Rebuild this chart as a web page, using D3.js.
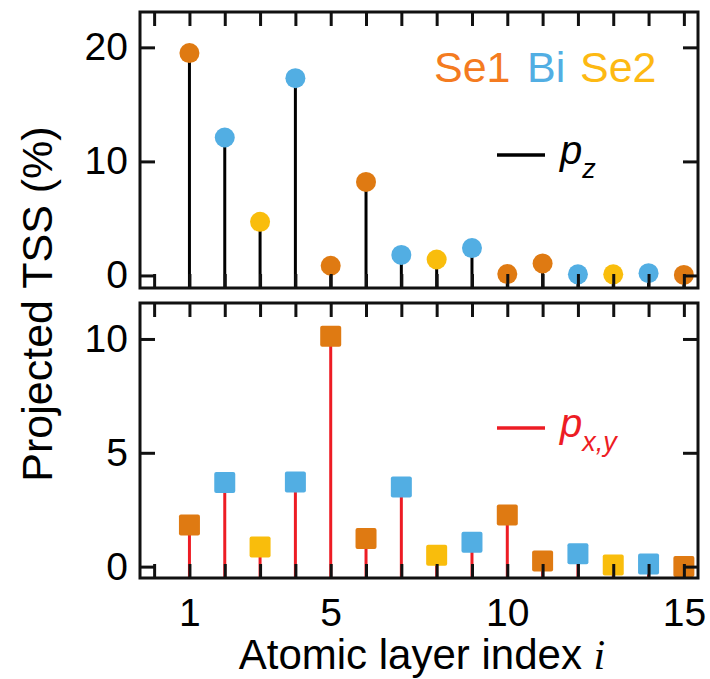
<!DOCTYPE html>
<html>
<head>
<meta charset="utf-8">
<script src="https://cdn.jsdelivr.net/npm/d3@7"></script>
<style>
  body { margin: 0; background: #fff; }
  svg text { font-family: "Liberation Sans", Arial, sans-serif; }
</style>
</head>
<body>
<div id="chart"></div>
<script>
// data
var layers = [1, 2, 3, 4, 5, 6, 7, 8, 9, 10, 11, 12, 13, 14, 15];
var atomTypes = ["Se1", "Bi", "Se2", "Bi", "Se1", "Se1", "Bi", "Se2", "Bi", "Se1", "Se1", "Bi", "Se2", "Bi", "Se1"];
var pzValues = [19.5, 12.1, 4.7, 17.3, 0.85, 8.2, 1.8, 1.4, 2.4, 0.12, 1.05, 0.1, 0.1, 0.2, 0.05];
var pxyValues = [1.83, 3.69, 0.86, 3.72, 10.12, 1.23, 3.5, 0.5, 1.07, 2.27, 0.25, 0.57, 0.07, 0.12, 0.0];
var xTickLabels = [1, 5, 10, 15];
var topYTicks = [0, 10, 20];
var bottomYTicks = [0, 5, 10];

var markerColor = { "Se1": "#df7a12", "Bi": "#52aee3", "Se2": "#f9bd0c" };
var legendColor = { "Se1": "#f47b20", "Bi": "#52aee3", "Se2": "#fdb913" };

var svgWidth = 710, svgHeight = 679;
var left = 140, right = 698;

var svg = d3.select("#chart").append("svg")
    .attr("width", svgWidth)
    .attr("height", svgHeight);

var xScale = d3.scaleLinear().domain([-0.4, 15.4]).range([left, right]);
var allX = d3.range(0, 16);

function drawPanel(opts) {
    var yScale = d3.scaleLinear().domain(opts.yDomain).range([opts.bottom, opts.top]);
    var g = svg.append("g");
    var data = layers.map(function(l, i) {
        return { x: l, y: opts.values[i], type: atomTypes[i] };
    });

    // stems
    g.selectAll(".stem").data(data).enter().append("line")
        .attr("x1", d => xScale(d.x))
        .attr("x2", d => xScale(d.x))
        .attr("y1", opts.bottom)
        .attr("y2", d => yScale(d.y))
        .attr("stroke", opts.stemColor)
        .attr("stroke-width", 3);

    // markers
    if (opts.shape === "circle") {
        g.selectAll(".mk").data(data).enter().append("circle")
            .attr("cx", d => xScale(d.x))
            .attr("cy", d => yScale(d.y))
            .attr("r", 10)
            .attr("fill", d => markerColor[d.type]);
    } else {
        var s = 21;
        g.selectAll(".mk").data(data).enter().append("rect")
            .attr("x", d => xScale(d.x) - s / 2)
            .attr("y", d => yScale(d.y) - s / 2)
            .attr("width", s)
            .attr("height", s)
            .attr("rx", 2)
            .attr("fill", d => markerColor[d.type]);
    }

    // axes, ticks pointing inward
    var leftAxis = d3.axisLeft(yScale).tickValues(opts.yTicks).tickSize(-15).tickPadding(12);
    var rightAxis = d3.axisRight(yScale).tickValues(opts.yTicks).tickSize(-15).tickFormat("");
    var topAxis = d3.axisTop(xScale).tickValues(allX).tickSize(-14).tickFormat("");
    var bottomAxis = d3.axisBottom(xScale).tickValues(allX).tickSize(-14)
        .tickPadding(20)
        .tickFormat(d => (opts.showX && xTickLabels.indexOf(d) >= 0) ? d : "");

    var axes = [
        g.append("g").attr("transform", `translate(${left},0)`).call(leftAxis),
        g.append("g").attr("transform", `translate(${right},0)`).call(rightAxis),
        g.append("g").attr("transform", `translate(0,${opts.top})`).call(topAxis),
        g.append("g").attr("transform", `translate(0,${opts.bottom})`).call(bottomAxis)
    ];
    axes.forEach(function(a) {
        a.select(".domain").remove();
        a.selectAll(".tick line").attr("stroke", "#111").attr("stroke-width", 3);
        a.selectAll(".tick text").attr("font-size", 39).attr("fill", "#000")
            .style("font-family", "'Liberation Sans', Arial, sans-serif");
    });

    // frame
    g.append("rect")
        .attr("x", left).attr("y", opts.top)
        .attr("width", right - left).attr("height", opts.bottom - opts.top)
        .attr("fill", "none").attr("stroke", "#111").attr("stroke-width", 3);

    return g;
}

var topPanel = drawPanel({
    top: 12, bottom: 288, yDomain: [-1.1, 23.1], yTicks: topYTicks,
    values: pzValues, stemColor: "#000", shape: "circle", showX: false
});
var bottomPanel = drawPanel({
    top: 303, bottom: 578, yDomain: [-0.5, 11.58], yTicks: bottomYTicks,
    values: pxyValues, stemColor: "#ed1c24", shape: "square", showX: true
});

// atom legend
var legendItems = [{ t: "Se1", x: 434 }, { t: "Bi", x: 527 }, { t: "Se2", x: 580 }];
svg.selectAll(".atomLegend").data(legendItems).enter().append("text")
    .attr("x", d => d.x).attr("y", 82)
    .attr("font-size", 43)
    .attr("fill", d => legendColor[d.t])
    .text(d => d.t);

// orbital legends
function orbitalLegend(y, color, sub) {
    svg.append("line")
        .attr("x1", 497).attr("x2", 545).attr("y1", y).attr("y2", y)
        .attr("stroke", color).attr("stroke-width", 3.5);
    var t = svg.append("text")
        .attr("x", 560).attr("y", y + 9)
        .attr("font-size", 40)
        .attr("font-style", "italic")
        .attr("fill", color);
    t.append("tspan").text("p");
    t.append("tspan").attr("dy", 14).attr("font-size", 27).text(sub);
}
orbitalLegend(155, "#000", "z");
orbitalLegend(428, "#ed1c24", "x,y");

// axis labels
var xLabel = svg.append("text")
    .attr("x", 422)
    .attr("y", 669)
    .attr("text-anchor", "middle")
    .attr("font-size", 42)
    .attr("fill", "#000");
xLabel.append("tspan").text("Atomic layer index ");
xLabel.append("tspan")
    .style("font-family", "'Liberation Serif', 'Times New Roman', serif")
    .attr("font-style", "italic")
    .text("i");

svg.append("text")
    .attr("transform", "translate(52,304) rotate(-90)")
    .attr("text-anchor", "middle")
    .attr("font-size", 43)
    .attr("fill", "#000")
    .text("Projected TSS (%)");
</script>
</body>
</html>
